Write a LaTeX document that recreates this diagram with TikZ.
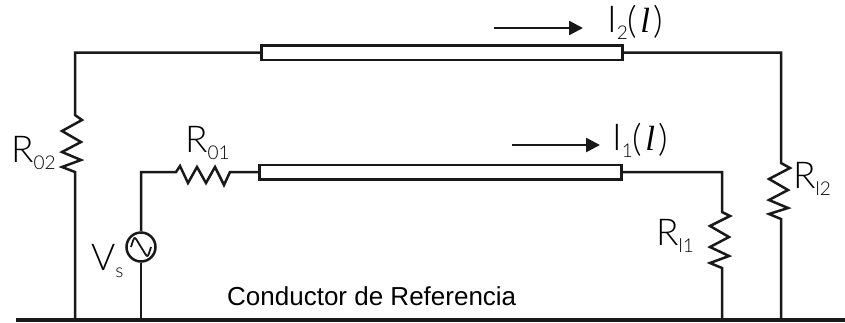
\documentclass[tikz,border=0pt]{standalone}
\usepackage{fontspec}
\usetikzlibrary{arrows.meta}
\setmainfont{Liberation Sans}
\newfontfamily\lightf{Lato Light}
\newfontfamily\serifit{Liberation Serif}[ItalicFont=* Italic]
\newcommand{\bigt}[1]{{\lightf\fontsize{37}{37}\selectfont #1}}
\newcommand{\subt}[1]{\raisebox{-7pt}{\lightf\fontsize{19}{19}\selectfont #1}}
\newcommand{\ital}{\kern3pt{\serifit\itshape\fontsize{35}{35}\selectfont l}\kern3pt}
\newcommand{\parn}[1]{\raisebox{-1pt}{\lightf\fontsize{37}{37}\selectfont #1}}
\tikzset{
  wire/.style={line width=2.5pt,draw=black!90,line join=miter},
  linebox/.style={draw=black!90,line width=2.5pt,fill=white,minimum height=14.5pt,inner sep=0pt,anchor=west},
  lbl/.style={inner sep=0pt,anchor=base west,text=black},
  cur/.style={line width=2.5pt,draw=black!90,-{Triangle[length=14pt,width=14pt]}},
  srcc/.style={circle,draw=black!90,line width=2.5pt,minimum size=29pt,inner sep=0pt,fill=white}
}
\begin{document}
\begin{tikzpicture}[x=1pt,y=-1pt]
\useasboundingbox (0,0) rectangle (845,322);
% ground
\coordinate (gl) at (16,319.5);
\coordinate (gr) at (845,319.5);
\draw[line width=4pt,draw=black!90] (gl) -- (gr);
% lines
\node[linebox,minimum width=361pt] (top) at (260,52.5) {};
\node[linebox,minimum width=362pt] (low) at (258,172) {};
% source
\node[srcc] (vs) at (141,247) {};
\draw[wire,line width=1.8pt] ([xshift=-10pt]vs.center) .. controls +(4,-13) and +(-7,-11) .. (vs.center) .. controls +(7,11) and +(-4,13) .. ([xshift=10pt]vs.center);
% corners
\coordinate (c1) at (75,52.5);
\coordinate (c2) at (781,52.5);
\coordinate (g1) at (75,319);
\coordinate (g2) at (781,319);
\coordinate (c3) at (141,172);
\coordinate (c4) at (722,172);
\coordinate (g3) at (141,319);
\coordinate (g4) at (722,319);
% R02
\draw[wire] (top.west) -- (c1) -- (75,115) -- (82,120) -- (62,131) -- (81,142) -- (62,152) -- (81,160) -- (62,167) -- (75,172) -- (g1);
% Rl2
\draw[wire] (top.east) -- (c2) -- (781,163) -- (790,168) -- (769,179) -- (788,190) -- (769,200) -- (788,208) -- (769,214) -- (781,219) -- (g2);
% R01
\draw[wire] (vs.north) -- (c3) -- (176,172) -- (180,166) -- (188,183) -- (197,167) -- (206,183) -- (215,167) -- (224,185) -- (230,172) -- (low.west);
% Rl1
\draw[wire] (low.east) -- (c4) -- (722,212) -- (730,216) -- (710,226) -- (729,237) -- (710,247) -- (729,256) -- (710,263) -- (722,268) -- (g4);
\draw[wire] (vs.south) -- (g3);
% currents
\coordinate (a1) at (494,28);
\coordinate (a2) at (583,28);
\coordinate (b1) at (512,145);
\coordinate (b2) at (600,145);
\draw[cur] (a1) -- (a2);
\draw[cur] (b1) -- (b2);
% labels
\node[lbl] (lr02) at (11,162) {\bigt{R}\subt{02}};
\node[lbl] (lr01) at (185,152) {\bigt{R}\subt{01}};
\node[lbl] (lvs) at (91,270) {\bigt{V}\subt{s}};
\node[lbl] (lrl1) at (656,245) {\bigt{R}\subt{l1}};
\node[lbl] (lrl2) at (793,188) {\bigt{R}\subt{l2}};
\node[lbl] (li2) at (607,32) {\bigt{I}\subt{2}\parn{(}\ital\parn{)}};
\node[lbl] (li1) at (612,150) {\bigt{I}\subt{1}\parn{(}\ital\parn{)}};
\node[lbl,font=\fontsize{26}{26}\selectfont] (cond) at (227,305) {Conductor de Referencia};
\end{tikzpicture}
\end{document}
